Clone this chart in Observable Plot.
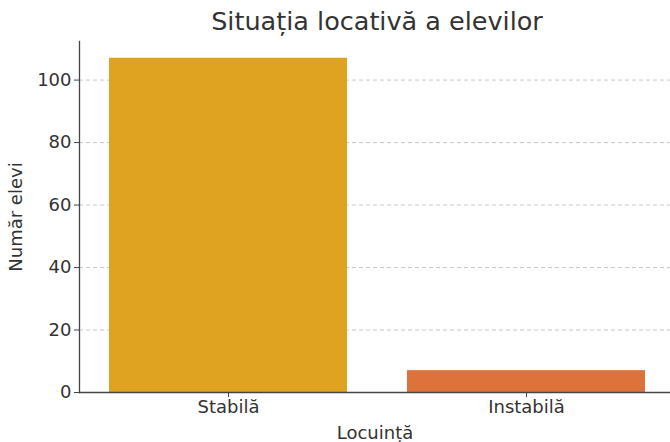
<!DOCTYPE html>
<html>
<head>
<meta charset="utf-8">
<script src="https://cdn.jsdelivr.net/npm/d3@7"></script>
<script src="https://cdn.jsdelivr.net/npm/@observablehq/plot@0.6"></script>
<style>
  body { margin: 0; background: #fff; font-family: "DejaVu Sans", sans-serif; }
  #title { height: 41px; width: 670px; box-sizing: border-box; padding-left: 84px; padding-top: 6px;
           text-align: center; font-size: 25.5px; color: #333; line-height: normal; white-space: nowrap; }
</style>
</head>
<body>
<div id="title">Situația locativă a elevilor</div>
<div id="chart"></div>
<script>
const categories = ["Stabilă", "Instabilă"];
const values = [107, 7];
const colors = ["#DFA321", "#DD723A"];
const yTicks = [0, 20, 40, 60, 80, 100];

const data = categories.map((c, i) => ({locuinta: c, elevi: values[i], color: colors[i]}));

const chart = Plot.plot({
  width: 670,
  height: 401,
  marginTop: 0,
  marginLeft: 79,
  marginRight: 0,
  marginBottom: 50,
  style: {fontFamily: "DejaVu Sans, sans-serif", fontSize: "18px", color: "#333", background: "#fff", overflow: "visible"},
  x: {domain: categories, range: [79, 675], paddingInner: 0.2, paddingOuter: 0.1},
  y: {domain: [0, 112.35]},
  marks: [
    Plot.gridY(yTicks.slice(1), {stroke: "#c8c8c8", strokeOpacity: 1, strokeDasharray: "4,3"}),
    Plot.barY(data, {x: "locuinta", y: "elevi", fill: "color"}),
    Plot.frame({anchor: "left", stroke: "#444", strokeWidth: 1.3}),
    Plot.frame({anchor: "bottom", stroke: "#444", strokeWidth: 1.3}),
    Plot.axisY(yTicks, {tickSize: 5, tickPadding: 3, stroke: "#444", label: "Număr elevi",
      labelAnchor: "center", labelArrow: "none", labelOffset: 70, fontSize: 18, fill: "#333"}),
    Plot.axisX({tickSize: 5, tickPadding: 3, stroke: "#444", label: "Locuință",
      labelAnchor: "center", labelArrow: "none", labelOffset: 46, fontSize: 18, fill: "#333"})
  ]
});
document.getElementById("chart").appendChild(chart);
</script>
</body>
</html>
